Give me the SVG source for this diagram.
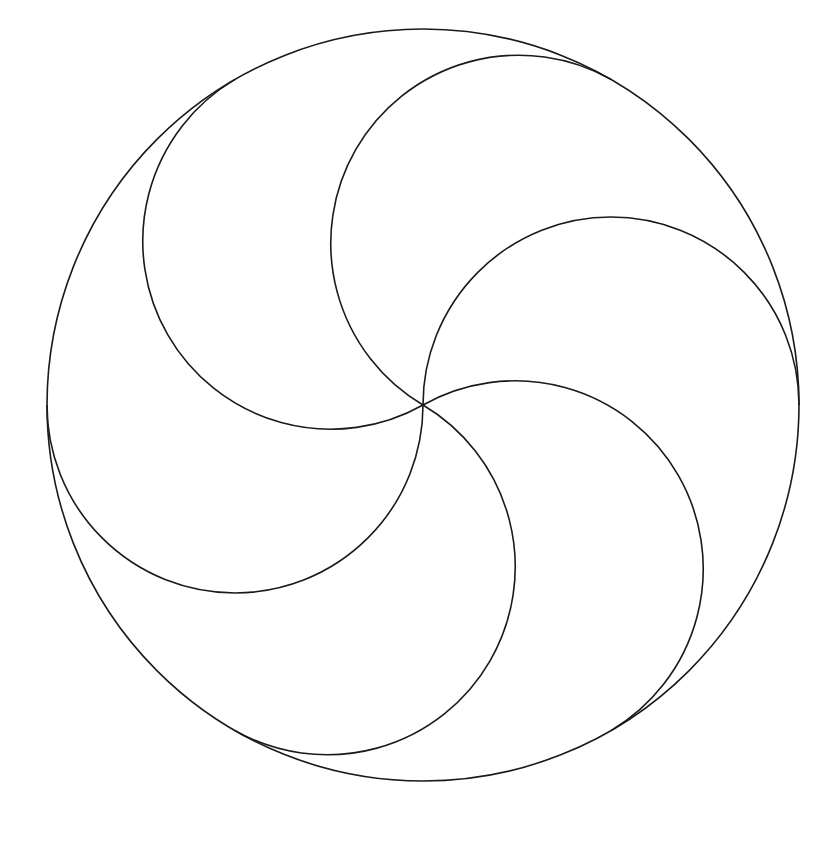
<svg xmlns="http://www.w3.org/2000/svg" width="826" height="842" viewBox="0 0 826 842">
<style>
.l{fill:none;stroke:#1a1a1a;stroke-width:1.6}
</style>
<rect width="826" height="842" fill="#fff"/>
<g id="outer"><circle class="l" cx="423" cy="405" r="376"/></g>
<g id="arcs">
<path class="l" d="M423,405 A188,188 0 0 1 799,405"/>
<path class="l" d="M423,405 A188,188 0 0 1 611,730.6"/>
<path class="l" d="M423,405 A188,188 0 0 1 235,730.6"/>
<path class="l" d="M423,405 A188,188 0 0 1 47,405"/>
<path class="l" d="M423,405 A188,188 0 0 1 235,79.4"/>
<path class="l" d="M423,405 A188,188 0 0 1 611,79.4"/>
</g>
</svg>
